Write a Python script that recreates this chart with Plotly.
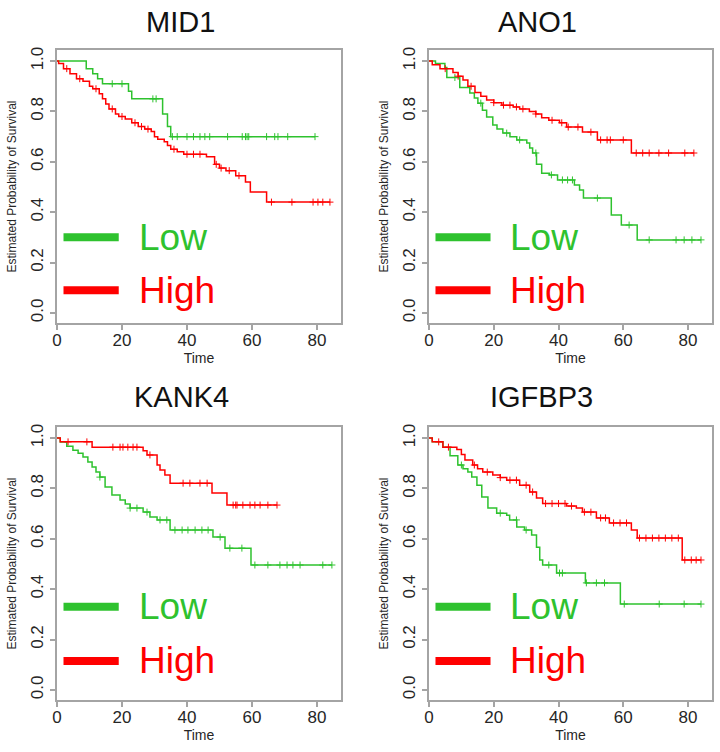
import plotly.graph_objects as go

# Kaplan-Meier step curves (time, survival at/after that time)
TITLES = ["MID1", "ANO1", "KANK4", "IGFBP3"]

MID1_LOW_T = [0, 9, 11, 12.5, 14, 22, 23, 32.5, 34, 35, 79.4]
MID1_LOW_S = [1.0, 0.97, 0.95, 0.93, 0.91, 0.88, 0.85, 0.79, 0.74, 0.70, 0.70]
MID1_LOW_CENS = [17, 20, 29.5, 30.5, 35.5, 37, 40, 42, 44, 45.5, 47, 52.5, 57, 58, 58.5, 59, 64.5, 67, 68, 71, 79.4]

MID1_HIGH_T = [0, 0.5, 2, 4, 6, 8, 10, 11, 13, 14, 15, 16, 18, 19, 21, 23, 25, 27, 29, 30,
               31, 33, 34, 35, 37, 39, 46, 48.5, 50, 52, 55, 58, 59.5, 64.5, 84]
MID1_HIGH_S = [1.0, 0.99, 0.97, 0.95, 0.93, 0.92, 0.90, 0.89, 0.87, 0.85, 0.83, 0.81, 0.79, 0.78, 0.77, 0.755, 0.74, 0.73, 0.72, 0.70,
               0.69, 0.68, 0.665, 0.65, 0.64, 0.63, 0.62, 0.59, 0.575, 0.565, 0.545, 0.52, 0.48, 0.44, 0.44]
MID1_HIGH_CENS = [3, 7, 12, 17, 20, 24, 26, 28, 36, 40, 42, 44, 49, 50.5, 53, 56, 66, 72.3, 78.8, 80.3, 81.8, 84]

ANO1_LOW_T = [0, 2, 4.9, 5.5, 9.5, 12.6, 14, 15.1, 16.5, 17.8, 19.7, 21, 22.8, 25, 27.1, 30.2, 31.1, 32, 33.2, 34.8,
              37.2, 39.7, 44.9, 46.5, 47.7, 56.3, 59.4, 64.3, 84]
ANO1_LOW_S = [1.0, 0.99, 0.975, 0.935, 0.895, 0.873, 0.853, 0.833, 0.805, 0.778, 0.746, 0.73, 0.714, 0.70, 0.687, 0.675, 0.655, 0.635, 0.59, 0.555,
              0.548, 0.528, 0.508, 0.488, 0.456, 0.389, 0.349, 0.29, 0.29]
ANO1_LOW_CENS = [8, 16, 24, 28, 33, 37.8, 41.2, 42.8, 44.3, 52, 61.8, 68, 76.3, 78.8, 81.2, 84]

ANO1_HIGH_T = [0, 1, 3.4, 7.4, 9, 10.5, 12, 14.2, 16, 17.8, 20, 22.5, 26, 28, 31, 33, 34.8, 37, 40.3, 42.5,
               47.4, 52, 62.5, 81.8]
ANO1_HIGH_S = [1.0, 0.985, 0.97, 0.955, 0.94, 0.925, 0.90, 0.875, 0.86, 0.845, 0.835, 0.825, 0.818, 0.81, 0.80, 0.79, 0.775, 0.765, 0.755, 0.738,
               0.718, 0.687, 0.635, 0.635]
ANO1_HIGH_CENS = [5, 9, 13, 20, 23, 25, 27, 29, 33, 38, 41, 43, 46, 50, 53, 55, 56, 60, 64, 66, 68, 71, 74, 79, 81.8]

KANK4_LOW_T = [0, 1, 3, 4.9, 6.5, 8, 9.5, 10.8, 12, 13.2, 14.8, 16.9, 19.4, 21, 22.5, 26.5, 28.6, 30.8, 34.8, 48,
               51.7, 59.7, 84.6]
KANK4_LOW_S = [1.0, 0.984, 0.968, 0.952, 0.94, 0.925, 0.905, 0.885, 0.865, 0.845, 0.806, 0.774, 0.754, 0.738, 0.722, 0.706, 0.687, 0.675, 0.635, 0.607,
               0.563, 0.496, 0.496]
KANK4_LOW_CENS = [13.2, 22.5, 24.6, 27.7, 31.7, 33.8, 36.3, 38.5, 40.3, 42.5, 44.6, 46.5, 50.2, 53.2, 56.9, 60.9,
                  64.9, 68.6, 70.8, 72.6, 74.8, 81.8, 84.6]

KANK4_HIGH_T = [0, 1, 10.8, 26.5, 27.7, 30.8, 31.7, 33.2, 34.8, 47.7, 52.3, 67.7]
KANK4_HIGH_S = [1.0, 0.985, 0.964, 0.95, 0.933, 0.893, 0.873, 0.853, 0.821, 0.782, 0.734, 0.734]
KANK4_HIGH_CENS = [3.4, 9.2, 17.2, 19.4, 20.3, 21.8, 23.4, 24.6, 28.6, 38.8, 40.9, 44, 46.2,
                   54.2, 55, 55.4, 57.2, 59.4, 60.9, 62.5, 64.9, 67.7]

IGFBP3_LOW_T = [0, 1, 4.3, 6.5, 8.9, 10.5, 12, 13.2, 14.8, 16.3, 18.2, 20.9, 24, 24.9, 27.1, 29.5, 31.7, 33.2, 34.2, 35.1,
                39.4, 48.3, 59.1, 84]
IGFBP3_LOW_S = [1.0, 0.985, 0.964, 0.93, 0.893, 0.878, 0.865, 0.845, 0.813, 0.766, 0.722, 0.702, 0.694, 0.675, 0.647, 0.635, 0.615, 0.567, 0.516, 0.496,
                0.464, 0.425, 0.341, 0.341]
IGFBP3_LOW_CENS = [10, 22, 27, 30, 37, 40.3, 41.2, 48.6, 51.7, 54.2, 60.3, 71.1, 78.8, 84]

IGFBP3_HIGH_T = [0, 1, 4.3, 8.6, 10, 11.1, 13.5, 15, 16.6, 19.7, 22, 24, 28, 31.1, 33.2, 35.1, 42.5, 45.5, 47.4, 51.7,
                 55.7, 62.5, 64.3, 78.2, 84]
IGFBP3_HIGH_S = [1.0, 0.985, 0.964, 0.955, 0.935, 0.913, 0.893, 0.878, 0.865, 0.853, 0.843, 0.833, 0.813, 0.786, 0.762, 0.74, 0.73, 0.722, 0.706, 0.683,
                 0.663, 0.635, 0.603, 0.516, 0.516]
IGFBP3_HIGH_CENS = [3, 6, 14, 18, 22, 25, 27, 30, 32, 36, 38, 40, 42, 44, 48, 50, 53, 54.5, 57, 59, 61,
                    65, 67, 69, 71, 73, 75, 77, 79, 81, 82.5, 84]

X_TICKS = [0, 20, 40, 60, 80]
Y_TICKS = [0.0, 0.2, 0.4, 0.6, 0.8, 1.0]
LEGEND_LABELS = ["Low", "High"]

GREEN = "#2ec22e"
RED = "#ff0000"
FRAME = "#a4a4a4"
FONT = "Liberation Sans, Arial, sans-serif"

panels = [
    (MID1_LOW_T, MID1_LOW_S, MID1_LOW_CENS, MID1_HIGH_T, MID1_HIGH_S, MID1_HIGH_CENS),
    (ANO1_LOW_T, ANO1_LOW_S, ANO1_LOW_CENS, ANO1_HIGH_T, ANO1_HIGH_S, ANO1_HIGH_CENS),
    (KANK4_LOW_T, KANK4_LOW_S, KANK4_LOW_CENS, KANK4_HIGH_T, KANK4_HIGH_S, KANK4_HIGH_CENS),
    (IGFBP3_LOW_T, IGFBP3_LOW_S, IGFBP3_LOW_CENS, IGFBP3_HIGH_T, IGFBP3_HIGH_S, IGFBP3_HIGH_CENS),
]

W, H = 720, 752
# plot boxes in pixels: (left, right, top, bottom)
boxes = [(57, 341, 50, 323), (429, 712, 50, 323), (57, 341, 427, 700), (429, 712, 427, 700)]
title_pos = [(180, 22), (537, 22), (181, 397), (541, 397)]
legend_y = [(0.30, 0.09), (0.30, 0.09), (0.33, 0.115), (0.33, 0.115)]


def step_value(times, surv, t):
    val = surv[0]
    for ti, si in zip(times, surv):
        if ti <= t:
            val = si
    return val


fig = go.Figure()
shapes = []
annotations = []

for i, (lt, ls, lc, ht, hs, hc) in enumerate(panels):
    n = "" if i == 0 else str(i + 1)
    xa, ya = "x" + n, "y" + n
    for t, s, c, col in [(lt, ls, lc, GREEN), (ht, hs, hc, RED)]:
        fig.add_trace(go.Scatter(x=t, y=s, mode="lines", line=dict(color=col, width=1.5, shape="hv"),
                                 xaxis=xa, yaxis=ya, showlegend=False, hoverinfo="skip"))
        fig.add_trace(go.Scatter(x=c, y=[step_value(t, s, v) for v in c], mode="markers",
                                 marker=dict(symbol="cross-thin-open", size=5, color=col,
                                             line=dict(color=col, width=1)),
                                 xaxis=xa, yaxis=ya, showlegend=False, hoverinfo="skip"))

    l, r, top, bot = boxes[i]
    axis_common = dict(showline=True, mirror=True, linecolor=FRAME, linewidth=2, showgrid=False, zeroline=False,
                       ticks="outside", ticklen=5, tickwidth=1.5, tickcolor=FRAME, automargin=False,
                       tickfont=dict(family=FONT, size=17, color="#262626"))
    fig.update_layout(**{
        "xaxis" + n: dict(axis_common, domain=[l / W, r / W], range=[0, 87.4], tickvals=X_TICKS,
                          anchor=ya, ticklabelstandoff=-4,
                          title=dict(text="Time", font=dict(family=FONT, size=14, color="#262626"), standoff=4)),
        "yaxis" + n: dict(axis_common, domain=[1 - bot / H, 1 - top / H], range=[-0.04, 1.044], tickvals=Y_TICKS,
                          tickformat=".1f", tickangle=-90, anchor=xa,
                          title=dict(text="Estimated Probability of Survival",
                                     font=dict(family=FONT, size=12, color="#262626"), standoff=9)),
    })

    tx, ty = title_pos[i]
    annotations.append(dict(text=TITLES[i], x=tx / W, y=1 - ty / H, xref="paper", yref="paper",
                            showarrow=False, xanchor="center", yanchor="middle",
                            font=dict(family=FONT, size=29, color="#111111")))

    for label, col, yv in zip(LEGEND_LABELS, [GREEN, RED], legend_y[i]):
        shapes.append(dict(type="line", xref=xa, yref=ya, x0=2, x1=19, y0=yv, y1=yv,
                           line=dict(color=col, width=8)))
        annotations.append(dict(text=label, x=24.5, y=yv, xref=xa, yref=ya, showarrow=False,
                                xanchor="left", yanchor="middle",
                                font=dict(family=FONT, size=37, color=col)))

fig.update_layout(width=W, height=H, margin=dict(l=0, r=0, t=0, b=0),
                  paper_bgcolor="white", plot_bgcolor="white",
                  shapes=shapes, annotations=annotations)

# drop the browser's default 8px body margin so the figure sits at the page origin
fig.write_html("out.html", config={"displayModeBar": False},
               post_script="document.body.style.margin='0';document.body.style.padding='0';")
